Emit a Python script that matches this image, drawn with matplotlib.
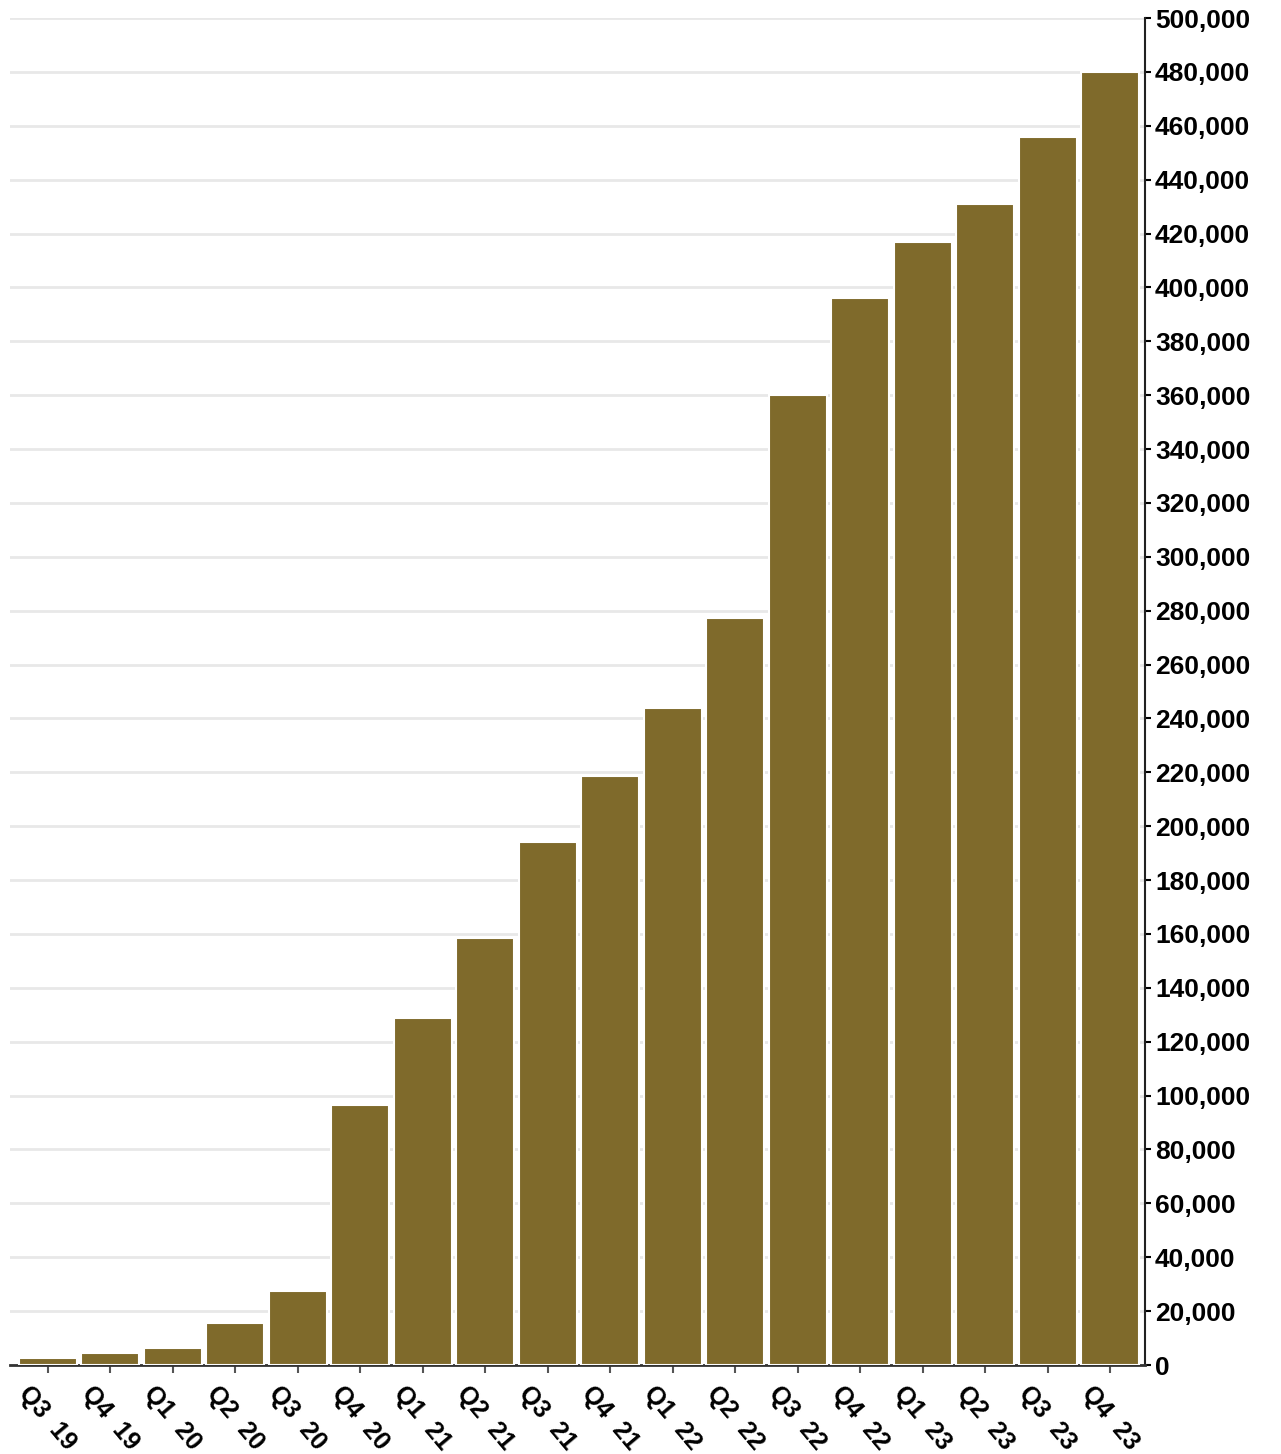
import matplotlib.pyplot as plt
from matplotlib.ticker import FuncFormatter, MultipleLocator

quarters = ["Q3 19", "Q4 19", "Q1 20", "Q2 20", "Q3 20", "Q4 20",
            "Q1 21", "Q2 21", "Q3 21", "Q4 21", "Q1 22", "Q2 22",
            "Q3 22", "Q4 22", "Q1 23", "Q2 23", "Q3 23", "Q4 23"]
values = [2600, 4500, 6300, 15600, 27500, 96500,
          128800, 158500, 194000, 218600, 244000, 277300,
          360000, 396000, 417000, 431000, 456000, 480000]

plt.rcParams['font.family'] = ['Liberation Sans', 'DejaVu Sans']
plt.rcParams['font.weight'] = 'bold'

fig = plt.figure(figsize=(12.81, 14.54), dpi=100)
ax = fig.add_axes([0.008, 0.0612, 0.886, 0.9264])

x = range(len(quarters))
ax.bar(x, values, width=0.93, color="#7f6a2b", edgecolor="white",
       linewidth=1.5, zorder=3)

ax.set_xlim(-0.6, 17.56)
ax.set_ylim(0, 500000)
ax.yaxis.set_major_locator(MultipleLocator(20000))
ax.yaxis.set_major_formatter(FuncFormatter(lambda v, p: f"{int(v):,}"))
ax.yaxis.tick_right()
ax.grid(axis='y', color="#e8e8e8", linewidth=2, zorder=0)

for side in ("top", "left"):
    ax.spines[side].set_visible(False)
ax.spines["right"].set_linewidth(1.5)
ax.spines["bottom"].set_linewidth(2)
ax.spines["right"].set_color("#222222")
ax.spines["bottom"].set_color("#333333")

ax.set_xticks(list(x))
ax.set_xticklabels([q.replace(" ", "  ") for q in quarters],
                   rotation=-50, ha="center")
ax.tick_params(axis='x', length=6, width=1.5, color="#555555",
               labelsize=18, pad=6)
ax.tick_params(axis='y', length=4, width=1.5, labelsize=19, pad=3)

fig.savefig("out.png", dpi=100)
plt.close()
